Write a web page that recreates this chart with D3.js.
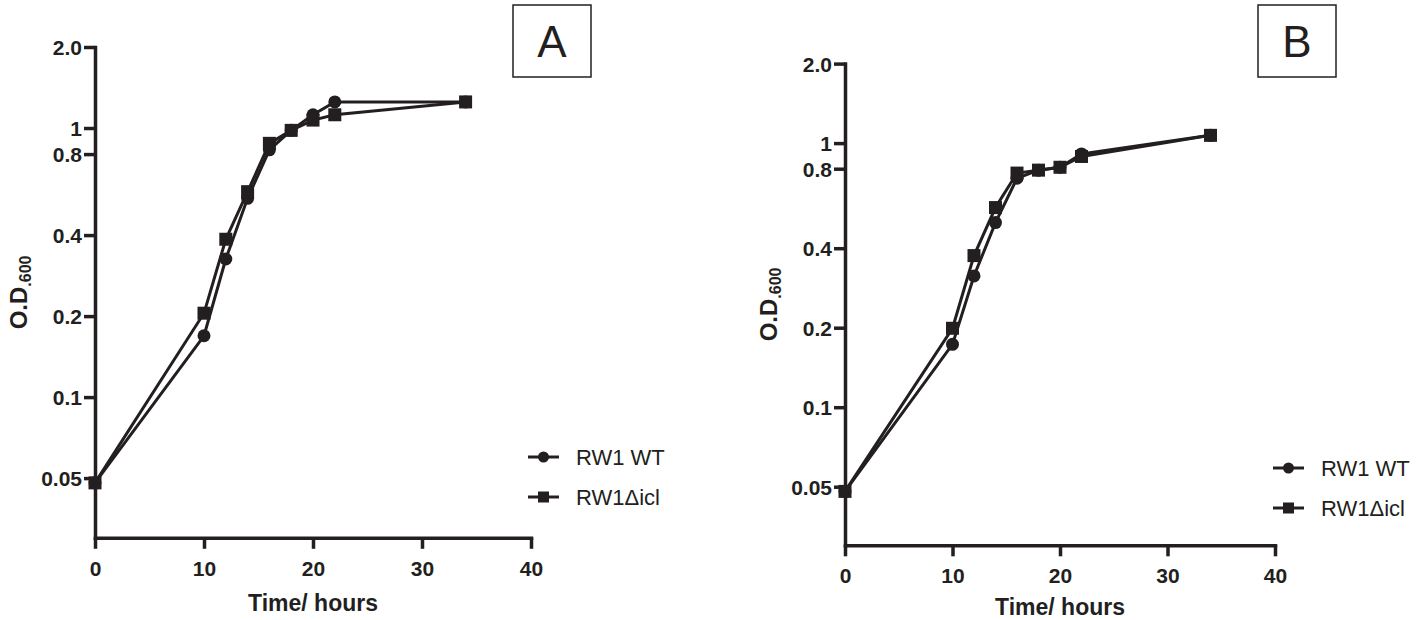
<!DOCTYPE html>
<html>
<head>
<meta charset="utf-8">
<script src="https://cdn.jsdelivr.net/npm/d3@7"></script>
<style>
  html, body { margin: 0; padding: 0; background: #fff; }
  svg { display: block; }
  text { font-family: "Liberation Sans", Arial, sans-serif; fill: #231f20; }
</style>
</head>
<body>
<svg id="chart" width="1424" height="620"></svg>
<script>
// ---------- DATA ----------
const timeHours = [0, 10, 12, 14, 16, 18, 20, 22, 34];

// Panel A
const panelA_WT  = [0.048, 0.169, 0.326, 0.548, 0.83, 0.98, 1.12, 1.25, 1.25];
const panelA_icl = [0.048, 0.205, 0.386, 0.58, 0.877, 0.98, 1.07, 1.12, 1.25];

// Panel B
const panelB_WT  = [0.048, 0.173, 0.314, 0.50, 0.736, 0.79, 0.81, 0.91, 1.07];
const panelB_icl = [0.048, 0.199, 0.375, 0.57, 0.77, 0.79, 0.81, 0.89, 1.07];

const xTicks = [0, 10, 20, 30, 40];
const yTickValues = [0.05, 0.1, 0.2, 0.4, 0.8, 1, 2.0];
const yTickLabels = ["0.05", "0.1", "0.2", "0.4", "0.8", "1", "2.0"];
const seriesNames = ["RW1 WT", "RW1\u0394icl"];
const panelLabels = ["A", "B"];
const xTitle = "Time/ hours";

// ---------- DRAW ----------
const ink = "#231f20";
const svg = d3.select("#chart");

function drawPanel(cfg) {
  const g = svg.append("g");
  const x = d3.scaleLinear().domain([0, 40]).range([cfg.x0, cfg.x1]);
  const y = d3.scaleLog().domain([0.03, 2.0]).range([cfg.yBottom, cfg.yTop]);

  // X axis
  const xAxis = d3.axisBottom(x).tickValues(xTicks).tickSize(11).tickSizeOuter(0).tickPadding(12)
    .tickFormat(d3.format("d"));
  const gx = g.append("g").attr("transform", `translate(0,${cfg.yBottom})`).call(xAxis);
  // Y axis
  const yAxis = d3.axisLeft(y).tickValues(yTickValues).tickSize(11).tickSizeOuter(0).tickPadding(2)
    .tickFormat((d, i) => yTickLabels[i]);
  const gy = g.append("g").attr("transform", `translate(${cfg.x0},0)`).call(yAxis);

  [gx, gy].forEach(a => {
    a.select(".domain").attr("stroke", ink).attr("stroke-width", 3.5).attr("stroke-linecap", "square");
    a.selectAll(".tick line").attr("stroke", ink).attr("stroke-width", 3.5);
    a.selectAll(".tick text").attr("fill", ink).style("font-size", "21px").style("font-weight", "bold")
      .style("font-family", "'Liberation Sans', Arial, sans-serif");
  });
  gy.selectAll(".tick text").attr("dy", "0.36em");

  // X title
  g.append("text").attr("x", (cfg.x0 + cfg.x1) / 2).attr("y", cfg.xTitleY)
    .attr("text-anchor", "middle").style("font-size", "23px").style("font-weight", "bold").text(xTitle);

  // Y title (rotated) O.D.600
  const yMid = (cfg.yBottom + cfg.yTop) / 2;
  const yt = g.append("text")
    .attr("transform", `translate(${cfg.x0 - 68},${yMid}) rotate(-90)`)
    .attr("text-anchor", "middle").style("font-weight", "bold");
  yt.append("tspan").style("font-size", "24px").text("O.D");
  yt.append("tspan").style("font-size", "16px").attr("dy", "4").text(".600");

  // Lines
  const line = d3.line().x((d, i) => x(timeHours[i])).y(d => y(d));
  const series = [cfg.wt, cfg.icl];
  series.forEach((vals) => {
    g.append("path").datum(vals).attr("d", line).attr("fill", "none")
      .attr("stroke", ink).attr("stroke-width", 3).attr("stroke-linejoin", "miter");
  });
  // Markers
  g.append("g").selectAll("circle").data(cfg.wt).join("circle")
    .attr("cx", (d, i) => x(timeHours[i])).attr("cy", d => y(d)).attr("r", 6.5).attr("fill", ink);
  g.append("g").selectAll("rect").data(cfg.icl).join("rect")
    .attr("x", (d, i) => x(timeHours[i]) - 6.5).attr("y", d => y(d) - 6.5)
    .attr("width", 13).attr("height", 13).attr("fill", ink);

  // Legend
  const lg = g.append("g");
  seriesNames.forEach((name, i) => {
    const ry = cfg.legY + i * 40;
    lg.append("line").attr("x1", cfg.legX).attr("x2", cfg.legX + 31).attr("y1", ry).attr("y2", ry)
      .attr("stroke", ink).attr("stroke-width", 3);
    const mx = cfg.legX + 15.5;
    if (i === 0) {
      lg.append("circle").attr("cx", mx).attr("cy", ry).attr("r", 5.5).attr("fill", ink);
    } else {
      lg.append("rect").attr("x", mx - 5.5).attr("y", ry - 5.5).attr("width", 11).attr("height", 11).attr("fill", ink);
    }
    lg.append("text").attr("x", cfg.legX + 48).attr("y", ry).attr("dy", "0.36em")
      .style("font-size", "22px").text(name);
  });

  // Panel label box
  g.append("rect").attr("x", cfg.boxX).attr("y", 5).attr("width", 78).attr("height", 72)
    .attr("fill", "none").attr("stroke", ink).attr("stroke-width", 1.5);
  g.append("text").attr("x", cfg.boxX + 39).attr("y", 41).attr("dy", "0.36em")
    .attr("text-anchor", "middle").style("font-size", "44px").text(cfg.label);
}

drawPanel({ x0: 95, x1: 531, yTop: 47, yBottom: 537.8, xTitleY: 611, wt: panelA_WT, icl: panelA_icl,
  legX: 528, legY: 457, boxX: 513, label: panelLabels[0] });
drawPanel({ x0: 845, x1: 1275, yTop: 63.6, yBottom: 545.3, xTitleY: 615, wt: panelB_WT, icl: panelB_icl,
  legX: 1273, legY: 468, boxX: 1258, label: panelLabels[1] });
</script>
</body>
</html>
